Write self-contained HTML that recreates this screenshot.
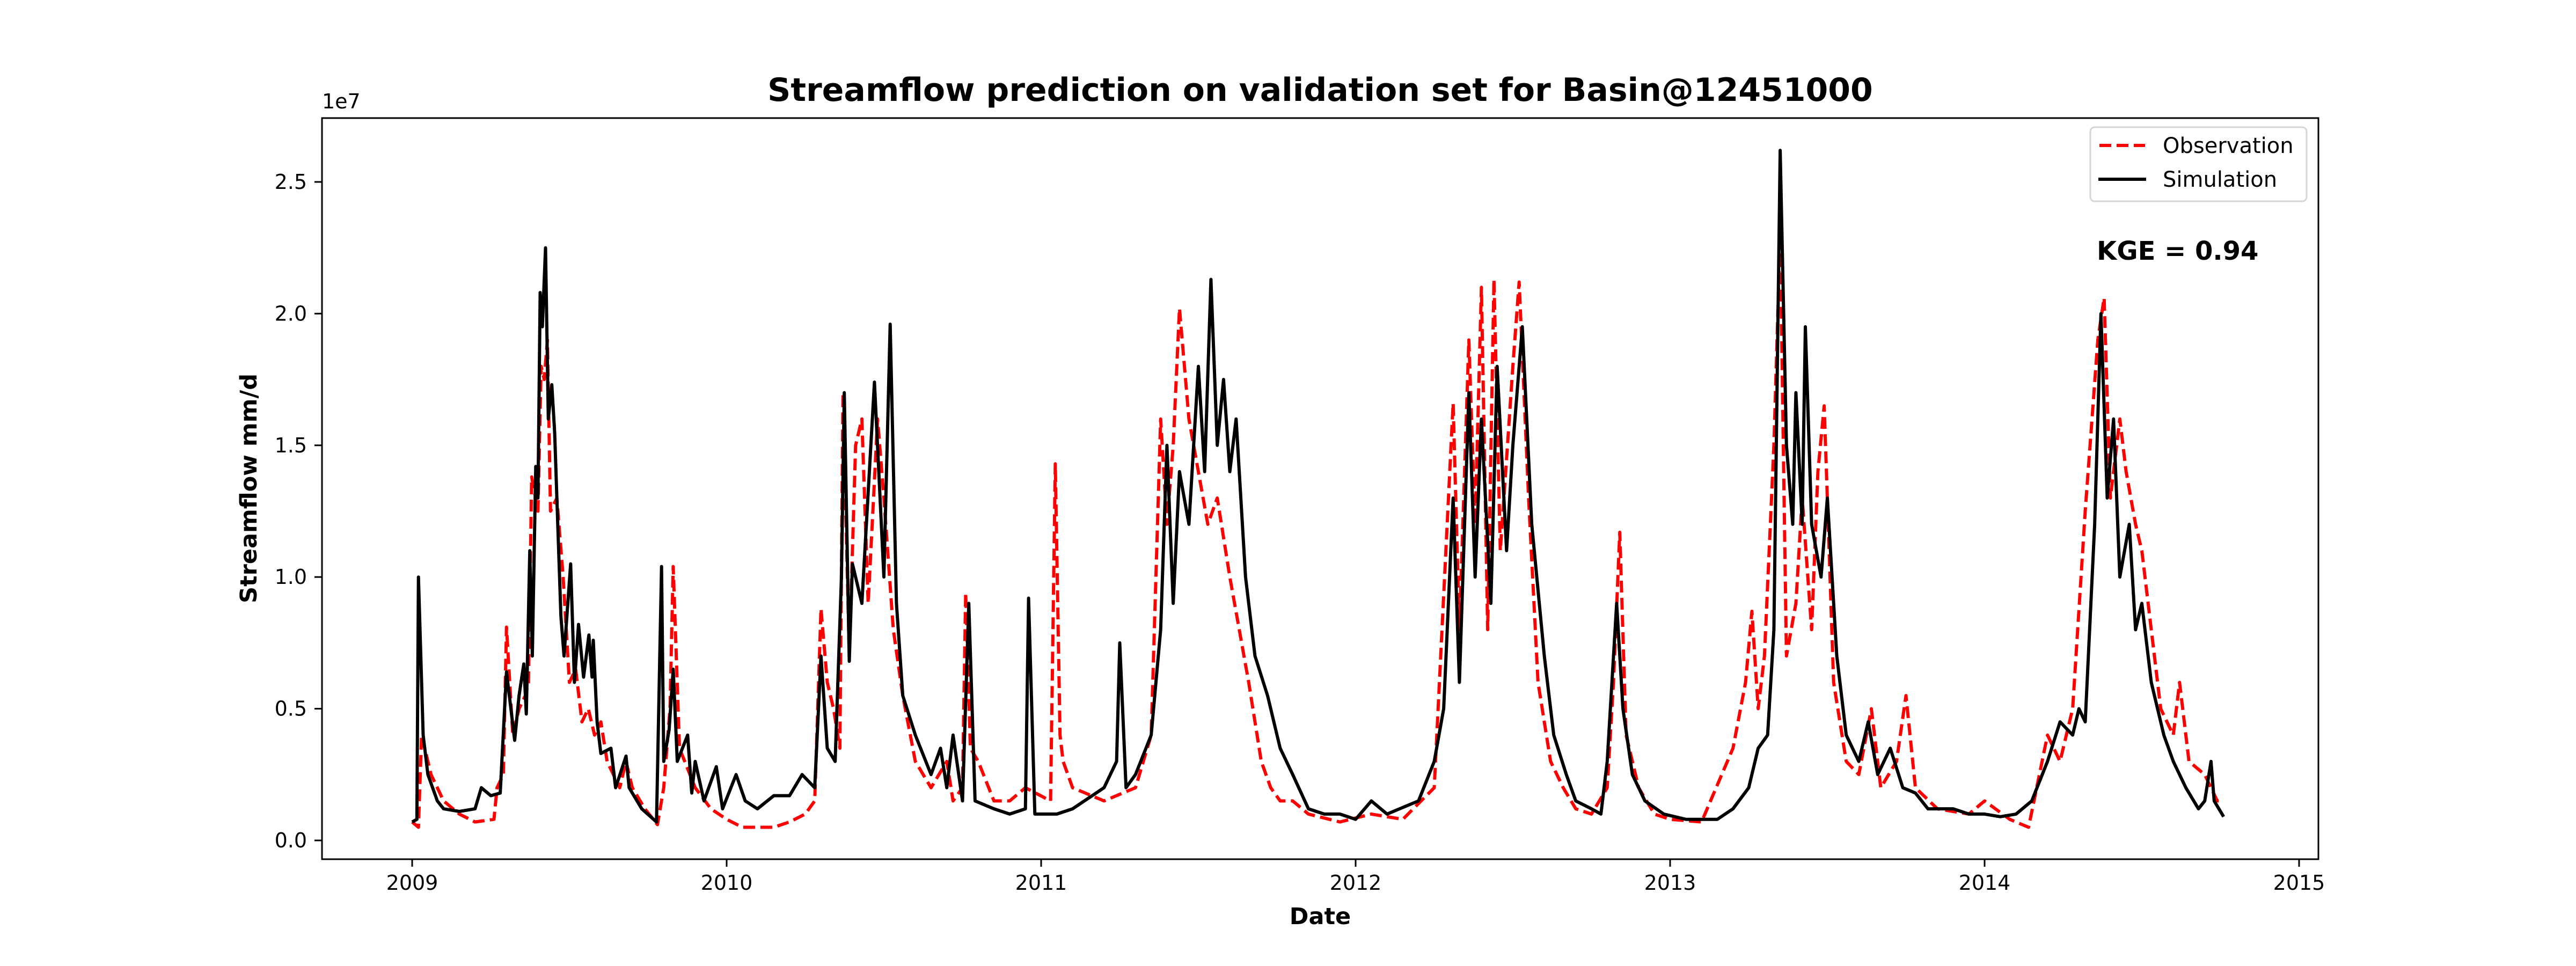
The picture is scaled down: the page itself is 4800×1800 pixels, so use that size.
<!DOCTYPE html>
<html><head><meta charset="utf-8"><style>
html,body{margin:0;padding:0;background:#fff;}
svg{display:block;font-family:"DejaVu Sans","Liberation Sans",sans-serif;}
</style></head><body>
<svg id="chart" width="4800" height="1800" viewBox="0 0 4800 1800" xmlns="http://www.w3.org/2000/svg">
<rect width="4800" height="1800" fill="#fff"/>
<text x="2460" y="188" text-anchor="middle" font-size="60" font-weight="bold">Streamflow prediction on validation set for Basin@12451000</text>
<text x="600" y="202" font-size="38">1e7</text>
<g id="ticks"></g>
<g id="series"></g>
<rect x="600" y="220" width="3720" height="1381" fill="none" stroke="#000" stroke-width="3"/>
<text transform="translate(478,910) rotate(-90)" text-anchor="middle" font-size="43" font-weight="bold">Streamflow mm/d</text>
<text x="2460" y="1722" text-anchor="middle" font-size="43" font-weight="bold">Date</text>
<g>
<rect x="3895" y="237" width="403" height="138" rx="8" fill="#fff" stroke="#d5d5d5" stroke-width="3"/>
<line x1="3912" y1="271" x2="3997" y2="271" stroke="#ff0000" stroke-width="6" stroke-dasharray="22,10"/>
<text x="4030" y="285" font-size="40">Observation</text>
<line x1="3910" y1="334" x2="3999" y2="334" stroke="#000" stroke-width="6"/>
<text x="4030" y="348" font-size="40">Simulation</text>
</g>
<text x="3907" y="484" font-size="48" font-weight="bold">KGE = 0.94</text>
</svg>
<script>
const yTicks = [0, 0.5, 1.0, 1.5, 2.0, 2.5];
const yTickLabels = ["0.0", "0.5", "1.0", "1.5", "2.0", "2.5"];
const xTicks = [2009, 2010, 2011, 2012, 2013, 2014, 2015];
const xTickLabels = ["2009", "2010", "2011", "2012", "2013", "2014", "2015"];

const simDates = [2009.00,2009.015,2009.02,2009.035,2009.05,2009.08,2009.1,2009.15,2009.2,2009.22,2009.25,2009.28,2009.30,2009.326,2009.34,2009.355,2009.363,2009.374,2009.382,2009.393,2009.40,2009.407,2009.414,2009.424,2009.433,2009.444,2009.453,2009.463,2009.473,2009.483,2009.504,2009.516,2009.529,2009.545,2009.562,2009.572,2009.576,2009.588,2009.60,2009.632,2009.647,2009.68,2009.69,2009.73,2009.777,2009.793,2009.80,2009.817,2009.83,2009.843,2009.876,2009.889,2009.90,2009.928,2009.967,2009.987,2010.03,2010.059,2010.098,2010.15,2010.2,2010.24,2010.28,2010.30,2010.32,2010.345,2010.365,2010.374,2010.39,2010.4,2010.43,2010.47,2010.5,2010.52,2010.54,2010.56,2010.6,2010.65,2010.68,2010.7,2010.72,2010.75,2010.77,2010.79,2010.85,2010.9,2010.95,2010.96,2010.98,2011.05,2011.1,2011.2,2011.24,2011.25,2011.27,2011.3,2011.35,2011.38,2011.4,2011.42,2011.44,2011.47,2011.5,2011.52,2011.54,2011.56,2011.58,2011.6,2011.62,2011.65,2011.68,2011.72,2011.76,2011.8,2011.85,2011.9,2011.95,2012.0,2012.05,2012.1,2012.2,2012.25,2012.28,2012.31,2012.33,2012.36,2012.38,2012.4,2012.43,2012.45,2012.48,2012.5,2012.53,2012.56,2012.6,2012.63,2012.67,2012.7,2012.75,2012.78,2012.8,2012.83,2012.85,2012.88,2012.92,2012.98,2013.05,2013.15,2013.2,2013.25,2013.28,2013.31,2013.33,2013.35,2013.37,2013.39,2013.4,2013.42,2013.43,2013.45,2013.48,2013.5,2013.53,2013.56,2013.6,2013.63,2013.66,2013.7,2013.74,2013.78,2013.82,2013.9,2013.95,2014.0,2014.05,2014.1,2014.15,2014.2,2014.24,2014.28,2014.3,2014.32,2014.35,2014.37,2014.39,2014.41,2014.43,2014.46,2014.48,2014.5,2014.53,2014.57,2014.6,2014.64,2014.68,2014.7,2014.72,2014.73,2014.76];
const simValues = [0.07,0.08,1.0,0.4,0.25,0.15,0.12,0.11,0.12,0.2,0.17,0.18,0.64,0.38,0.55,0.67,0.48,1.1,0.7,1.42,1.3,2.08,1.95,2.25,1.6,1.73,1.55,1.2,0.85,0.7,1.05,0.6,0.82,0.62,0.78,0.62,0.76,0.45,0.33,0.35,0.2,0.32,0.2,0.12,0.07,1.04,0.3,0.42,0.65,0.3,0.4,0.18,0.3,0.15,0.28,0.12,0.25,0.15,0.12,0.17,0.17,0.25,0.2,0.7,0.35,0.3,1.0,1.7,0.68,1.05,0.9,1.74,1.0,1.96,0.9,0.55,0.4,0.25,0.35,0.2,0.4,0.15,0.9,0.15,0.12,0.1,0.12,0.92,0.1,0.1,0.12,0.2,0.3,0.75,0.2,0.25,0.4,0.8,1.5,0.9,1.4,1.2,1.8,1.4,2.13,1.5,1.75,1.4,1.6,1.0,0.7,0.55,0.35,0.25,0.12,0.1,0.1,0.08,0.15,0.1,0.15,0.3,0.5,1.3,0.6,1.7,1.0,1.6,0.9,1.8,1.1,1.5,1.95,1.2,0.7,0.4,0.25,0.15,0.12,0.1,0.3,0.9,0.5,0.25,0.15,0.1,0.08,0.08,0.12,0.2,0.35,0.4,0.8,2.62,1.5,1.2,1.7,1.2,1.95,1.2,1.0,1.3,0.7,0.4,0.3,0.45,0.25,0.35,0.2,0.18,0.12,0.12,0.1,0.1,0.09,0.1,0.15,0.3,0.45,0.4,0.5,0.45,1.2,2.0,1.3,1.6,1.0,1.2,0.8,0.9,0.6,0.4,0.3,0.2,0.12,0.15,0.3,0.15,0.09];

const obsDates = [2009.0,2009.02,2009.03,2009.06,2009.1,2009.15,2009.2,2009.26,2009.27,2009.29,2009.30,2009.32,2009.34,2009.36,2009.37,2009.38,2009.4,2009.41,2009.42,2009.43,2009.44,2009.46,2009.48,2009.5,2009.52,2009.54,2009.56,2009.58,2009.6,2009.62,2009.64,2009.66,2009.68,2009.7,2009.74,2009.78,2009.8,2009.82,2009.83,2009.85,2009.9,2009.95,2010.0,2010.05,2010.15,2010.2,2010.25,2010.28,2010.3,2010.32,2010.34,2010.36,2010.37,2010.39,2010.41,2010.43,2010.45,2010.48,2010.5,2010.53,2010.56,2010.6,2010.65,2010.7,2010.72,2010.75,2010.76,2010.775,2010.8,2010.85,2010.9,2010.95,2011.03,2011.045,2011.06,2011.07,2011.1,2011.2,2011.3,2011.35,2011.38,2011.4,2011.42,2011.44,2011.47,2011.5,2011.53,2011.56,2011.6,2011.63,2011.66,2011.7,2011.73,2011.76,2011.8,2011.85,2011.95,2012.05,2012.15,2012.25,2012.31,2012.33,2012.36,2012.38,2012.4,2012.42,2012.44,2012.46,2012.5,2012.52,2012.55,2012.58,2012.62,2012.66,2012.7,2012.75,2012.8,2012.82,2012.84,2012.86,2012.9,2012.95,2013.0,2013.1,2013.2,2013.24,2013.26,2013.28,2013.3,2013.33,2013.35,2013.37,2013.4,2013.42,2013.45,2013.47,2013.49,2013.52,2013.56,2013.6,2013.64,2013.67,2013.72,2013.75,2013.78,2013.85,2013.95,2014.0,2014.08,2014.14,2014.2,2014.24,2014.28,2014.32,2014.36,2014.38,2014.4,2014.43,2014.45,2014.48,2014.5,2014.53,2014.56,2014.6,2014.62,2014.65,2014.7,2014.74,2014.76];
const obsValues = [0.07,0.05,0.4,0.25,0.15,0.1,0.07,0.08,0.2,0.25,0.81,0.4,0.5,0.55,0.6,1.38,1.25,1.8,1.75,1.9,1.25,1.3,1.0,0.6,0.65,0.45,0.5,0.4,0.45,0.3,0.25,0.2,0.3,0.2,0.12,0.06,0.2,0.5,1.04,0.35,0.2,0.12,0.08,0.05,0.05,0.07,0.1,0.15,0.88,0.6,0.5,0.35,1.7,0.7,1.5,1.6,0.9,1.6,1.3,0.8,0.55,0.3,0.2,0.3,0.15,0.2,0.94,0.35,0.3,0.15,0.15,0.2,0.15,1.43,0.4,0.3,0.2,0.15,0.2,0.4,1.6,1.2,1.5,2.02,1.6,1.4,1.2,1.3,1.0,0.8,0.6,0.3,0.2,0.15,0.15,0.1,0.07,0.1,0.08,0.2,1.66,0.8,1.9,1.2,2.1,0.8,2.13,1.1,1.8,2.12,1.3,0.6,0.3,0.2,0.12,0.1,0.2,0.6,1.17,0.4,0.2,0.1,0.08,0.07,0.35,0.6,0.87,0.5,0.7,1.5,2.3,0.7,0.9,1.3,0.8,1.4,1.65,0.6,0.3,0.25,0.5,0.2,0.3,0.55,0.2,0.12,0.1,0.15,0.08,0.05,0.4,0.3,0.5,1.25,1.9,2.06,1.3,1.6,1.4,1.2,1.1,0.8,0.5,0.4,0.6,0.3,0.25,0.15,0.15];

const X0 = 768, PX_PER_YEAR = 586, Y0 = 1566, PX_PER_UNIT = 490.8;
function xScale(t){ return X0 + (t - 2009) * PX_PER_YEAR; }
function yScale(v){ return Y0 - v * PX_PER_UNIT; }
const NS = "http://www.w3.org/2000/svg";
const tickG = document.getElementById('ticks');
yTicks.forEach((v, i) => {
  const y = yScale(v);
  const ln = document.createElementNS(NS, 'line');
  ln.setAttribute('x1', 586); ln.setAttribute('x2', 600);
  ln.setAttribute('y1', y); ln.setAttribute('y2', y);
  ln.setAttribute('stroke', '#000'); ln.setAttribute('stroke-width', 3);
  
  
  tickG.appendChild(ln);
  const tx = document.createElementNS(NS, 'text');
  tx.setAttribute('x', 572); tx.setAttribute('y', y + 13);
  tx.setAttribute('text-anchor', 'end'); tx.setAttribute('font-size', 38);
  tx.textContent = yTickLabels[i];
  
  
  tickG.appendChild(tx);
});
xTicks.forEach((t, i) => {
  const x = xScale(t);
  const ln = document.createElementNS(NS, 'line');
  ln.setAttribute('x1', x); ln.setAttribute('x2', x);
  ln.setAttribute('y1', 1601); ln.setAttribute('y2', 1615);
  ln.setAttribute('stroke', '#000'); ln.setAttribute('stroke-width', 3);
  
  
  tickG.appendChild(ln);
  const tx = document.createElementNS(NS, 'text');
  tx.setAttribute('x', x); tx.setAttribute('y', 1658);
  tx.setAttribute('text-anchor', 'middle'); tx.setAttribute('font-size', 38);
  tx.textContent = xTickLabels[i];
  
  
  tickG.appendChild(tx);
});
const sG = document.getElementById('series');
function pathFor(dates, vals){
  return dates.map((t, i) => (i ? 'L' : 'M') + xScale(t).toFixed(1) + ',' + yScale(vals[i]).toFixed(1)).join(' ');
}
const obsPath = document.createElementNS(NS, 'path');
obsPath.setAttribute('d', pathFor(obsDates, obsValues));
obsPath.setAttribute('fill', 'none'); obsPath.setAttribute('stroke', '#ff0000');
obsPath.setAttribute('stroke-width', 6); obsPath.setAttribute('stroke-dasharray', '22,10');
obsPath.setAttribute('stroke-linejoin', 'round');


sG.appendChild(obsPath);
const simPath = document.createElementNS(NS, 'path');
simPath.setAttribute('d', pathFor(simDates, simValues));
simPath.setAttribute('fill', 'none'); simPath.setAttribute('stroke', '#000');
simPath.setAttribute('stroke-width', 6); simPath.setAttribute('stroke-linejoin', 'round');


sG.appendChild(simPath);
</script>
</body></html>
